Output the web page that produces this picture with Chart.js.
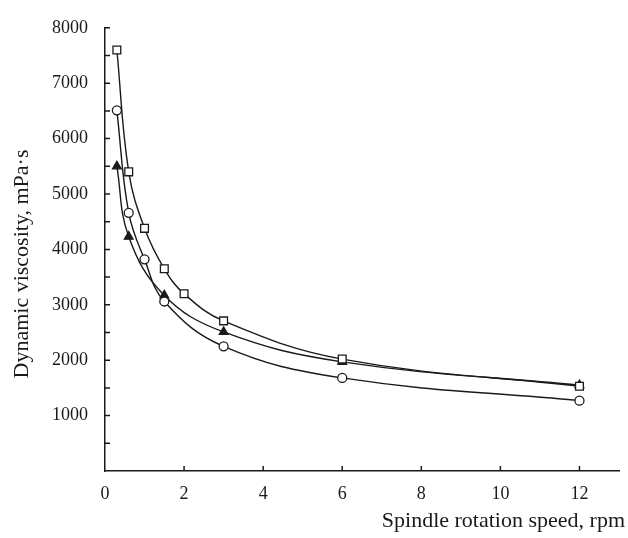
<!DOCTYPE html>
<html>
<head>
<meta charset="utf-8">
<script src="https://cdn.jsdelivr.net/npm/chart.js@4/dist/chart.umd.min.js"></script>
<style>
html,body{margin:0;padding:0;background:#fff;}
#wrap{width:628px;height:538px;position:relative;}
</style>
</head>
<body>
<div id="wrap"><canvas id="c"></canvas></div>
<script>
const xTitle = 'Spindle rotation speed, rpm';
const yTitle = 'Dynamic viscosity, mPa·s';

const squareX = [0.3, 0.6, 1, 1.5, 2, 3, 6, 12];
const squareY = [7600, 5400, 4380, 3650, 3200, 2710, 2020, 1530];

const circleX = [0.3, 0.6, 1, 1.5, 3, 6, 12];
const circleY = [6510, 4660, 3820, 3060, 2250, 1680, 1270];

const triangleX = [0.3, 0.6, 1.5, 3, 6, 12];
const triangleY = [5500, 4230, 3170, 2510, 1970, 1550];

const xTicks = [0, 2, 4, 6, 8, 10, 12];
const yLabels = [1000, 2000, 3000, 4000, 5000, 6000, 7000, 8000];

const FONT = '"Liberation Serif", "DejaVu Serif", serif';
const INK = '#1a1a1a';

function pts(xs, ys){ return xs.map((x,i)=>({x:x, y:ys[i]})); }

const inwardTicks = {
  id: 'inwardTicks',
  afterDatasetsDraw(chart){
    const ctx = chart.ctx;
    const xs = chart.scales.x, ys = chart.scales.y;
    const a = chart.chartArea;
    ctx.save();
    ctx.strokeStyle = INK;
    ctx.lineWidth = 1.5;
    ctx.beginPath();
    xs.ticks.forEach(t => {
      if (t.value === 0) return;
      const px = xs.getPixelForValue(t.value);
      ctx.moveTo(px, a.bottom);
      ctx.lineTo(px, a.bottom - 5);
    });
    ys.ticks.forEach(t => {
      if (t.value === 0) return;
      const py = ys.getPixelForValue(t.value);
      ctx.moveTo(a.left, py);
      ctx.lineTo(a.left + 5, py);
    });
    ctx.stroke();
    ctx.restore();
  }
};

const axisTitles = {
  id: 'axisTitles',
  afterDraw(chart){
    const ctx = chart.ctx;
    ctx.save();
    ctx.fillStyle = INK;
    ctx.font = '22px ' + FONT;
    ctx.textBaseline = 'middle';
    ctx.textAlign = 'right';
    ctx.fillText(xTitle, 625, 521);
    ctx.translate(22, 264);
    ctx.rotate(-Math.PI/2);
    ctx.textAlign = 'center';
    ctx.fillText(yTitle, 0, 0);
    ctx.restore();
  }
};

const common = {
  showLine: true,
  borderColor: INK,
  borderWidth: 1.4,
  tension: 0.4,
  pointBorderColor: INK,
  pointBorderWidth: 1.3,
};

new Chart(document.getElementById('c'), {
  type: 'scatter',
  data: {
    datasets: [
      Object.assign({}, common, {
        label: 'square',
        data: pts(squareX, squareY),
        pointStyle: 'rect',
        pointRadius: 5.5,
        pointBackgroundColor: '#fff'
      }),
      Object.assign({}, common, {
        label: 'circle',
        data: pts(circleX, circleY),
        pointStyle: 'circle',
        pointRadius: 4.5,
        pointBackgroundColor: '#fff'
      }),
      Object.assign({}, common, {
        label: 'triangle',
        data: pts(triangleX, triangleY),
        pointStyle: 'triangle',
        pointRadius: 5,
        pointBackgroundColor: INK
      })
    ]
  },
  options: {
    responsive: true,
    maintainAspectRatio: false,
    animation: false,
    layout: { padding: { top: 24, right: 9, left: 0, bottom: 0 } },
    plugins: { legend: { display: false }, tooltip: { enabled: false } },
    scales: {
      x: {
        type: 'linear',
        min: 0, max: 13,
        afterBuildTicks(scale){ scale.ticks = xTicks.map(v => ({value: v})); },
        afterFit(scale){ scale.height = 67; },
        grid: { display: false, drawTicks: false },
        border: { display: true, color: INK, width: 1.5 },
        ticks: { color: INK, font: { family: FONT, size: 18 }, padding: 12, maxRotation: 0, autoSkip: false }
      },
      y: {
        type: 'linear',
        min: 0, max: 8000,
        ticks: {
          stepSize: 500,
          color: INK,
          font: { family: FONT, size: 18 },
          padding: 17,
          autoSkip: false,
          callback(v){ return yLabels.includes(v) ? String(v) : ''; }
        },
        afterFit(scale){ scale.width = 105; },
        grid: { display: false, drawTicks: false },
        border: { display: true, color: INK, width: 1.5 }
      }
    }
  },
  plugins: [inwardTicks, axisTitles]
});
</script>
</body>
</html>
